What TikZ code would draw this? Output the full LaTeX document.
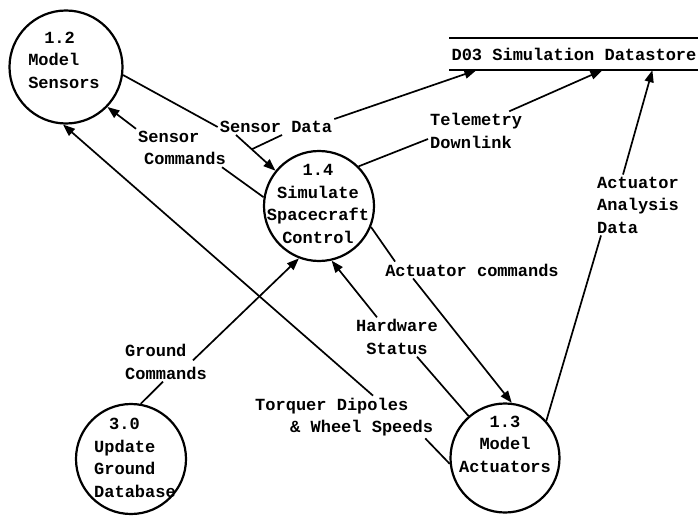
\documentclass[tikz,border=0pt]{standalone}
\usepackage{fontspec}
\setmainfont{Liberation Mono}
\usetikzlibrary{arrows.meta,calc}
\begin{document}
\begin{tikzpicture}[x=1pt,y=-1pt,
  txt/.style={font=\fontsize{17}{22.5}\selectfont\bfseries, inner sep=2pt},
  proc/.style={circle, draw, line width=2.2pt, inner sep=0pt},
  flow/.style={line width=1.7pt},
  arr/.style={flow, -{Triangle[length=12pt,width=9pt]}},
]
\useasboundingbox (0,0) rectangle (698,516);

% processes
\node[proc, minimum size=113pt,
  label={[txt, align=left, xshift=-2pt, yshift=7pt, name=t12]center:\hspace*{16pt}1.2\\Model\\Sensors}] (s12) at (66,67) {};
\node[proc, minimum size=110pt,
  label={[txt, align=center, xshift=-1pt, yshift=2pt, name=t14]center:1.4\\Simulate\\Spacecraft\\Control}] (s14) at (319,206) {};
\node[proc, minimum size=109pt,
  label={[txt, align=center, yshift=14pt, name=t13]center:1.3\\Model\\Actuators}] (s13) at (505,458) {};
\node[proc, minimum size=110pt,
  label={[txt, align=left, xshift=4pt, yshift=1pt, name=t30]center:\hspace*{15pt}3.0\\Update\\Ground\\Database}] (s30) at (131,459) {};

% datastore
\node[txt, minimum width=248pt, minimum height=32pt] (ds) at (574,54) {D03 Simulation Datastore};
\draw[line width=2.4pt] (ds.north west) -- (ds.north east);
\draw[line width=2.4pt] (ds.south west) -- (ds.south east);

% labels
\node[txt] (lSD) at (276,127) {Sensor Data};
\node[txt, align=left] (lSC) at (182,148) {Sensor\\\hspace*{6pt}Commands};
\node[txt, align=left, anchor=west] (lTD) at (428,131) {Telemetry\\Downlink};
\node[txt] (lAC) at (472,270) {Actuator commands};
\node[txt, align=center] (lHS) at (397,337) {Hardware\\Status};
\node[txt, align=left, anchor=west] (lGC) at (123,362) {Ground\\Commands};
\node[txt, align=left, anchor=west] (lTW) at (253,417) {Torquer Dipoles\\\hspace*{35pt}\& Wheel Speeds};
\node[txt, align=left, anchor=west] (lAA) at (595,205) {Actuator\\Analysis\\Data};

% Sensor Data
\draw[flow] (s12.-8) -- (lSD.west);
\draw[arr] (lSD.north east) -- ([xshift=27pt]ds.south west);
\coordinate (bSD) at ([xshift=-40pt]lSD.south);
\coordinate (jSD) at ($(bSD)!0.4!(s14.141)$);
\draw[arr] (bSD) -- (s14.141);
\draw[flow] ([xshift=6pt]lSD.south) -- (jSD);

% Sensor Commands
\draw[flow] (s14.171) -- ([xshift=-6pt]lSC.south east);
\draw[arr] (lSC.north west) -- (s12.-44);

% Telemetry Downlink
\draw[flow] (s14.45) -- ([yshift=-8pt]lTD.west);
\draw[arr] ([xshift=-15pt]lTD.north east) -- ([xshift=153pt]ds.south west);

% Actuator Analysis Data
\draw[flow] (s13.42) -- ([xshift=6pt]lAA.south west);
\draw[arr] ([xshift=28pt]lAA.north west) -- ([xshift=203pt]ds.south west);

% Actuator commands
\draw[flow] (s14.-22) -- ([xshift=12pt]lAC.north west);
\draw[arr] ([xshift=30pt]lAC.south west) -- (s13.83);

% Hardware Status
\draw[flow] (s13.131) -- ([xshift=20pt]lHS.south);
\draw[arr] ([xshift=-20pt]lHS.north) -- (s14.-77);

% Ground Commands
\draw[flow] (s30.80) -- ([xshift=40pt]lGC.south west);
\draw[arr] ([xshift=70pt,yshift=-18pt]lGC.north west) -- (s14.-111);

% Torquer Dipoles & Wheel Speeds
\draw[flow] (s13.-174) -- ([xshift=-10pt]lTW.south east);
\draw[arr] ([xshift=120pt]lTW.north west) -- (s12.-93);
\end{tikzpicture}
\end{document}
